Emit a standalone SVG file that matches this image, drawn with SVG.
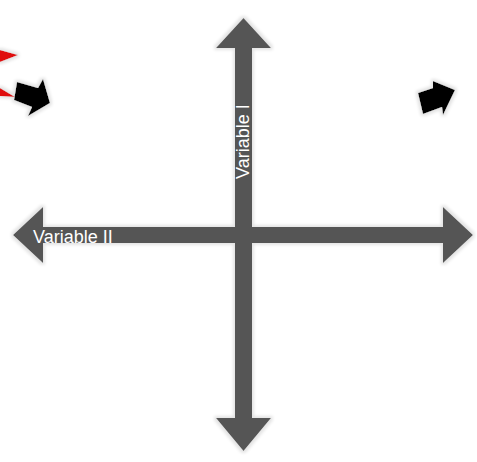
<svg xmlns="http://www.w3.org/2000/svg" width="477" height="462" viewBox="0 0 477 462">
<style>
.ax{fill:#555555}
.lbl{font-family:"Liberation Sans",Arial,sans-serif;font-size:18px;fill:#ffffff}
.blk{fill:#000000}
.red{fill:#e01010}
</style>
<defs>
<filter id="glow" x="-20%" y="-20%" width="140%" height="140%">
<feMorphology in="SourceAlpha" operator="dilate" radius="2" result="d"/>
<feGaussianBlur in="d" stdDeviation="1.5" result="b"/>
<feFlood flood-color="#e4e4e4"/>
<feComposite in2="b" operator="in" result="g"/>
<feMerge><feMergeNode in="g"/><feMergeNode in="SourceGraphic"/></feMerge>
</filter>
</defs>
<rect width="477" height="462" fill="#ffffff"/>
<g id="deco-left" filter="url(#glow)">
<polygon class="red" points="0,50 18,55 0,62"/>
<polygon class="red" points="0,88 15,97 0,96"/>
<polygon class="blk" points="17,82 38,88 43,79 50,103 28,116 32,107 14,100"/>
</g>
<g id="deco-right" filter="url(#glow)">
<polygon class="blk" points="418,93 433,88 433,81 455,90 443,115 442,107 423,114"/>
</g>
<g id="connectors" filter="url(#glow)">
<polygon class="ax" points="235,48 216,48 243.5,18 271,48 252,48 252,227 443,227 443,207 473,235 443,263 443,243 252,243 252,418 271,418 243.5,451 216,418 235,418 235,243 43,243 43,263 13,235 43,207 43,227 235,227"/>
</g>
<g id="variable-ii">
<text class="lbl" x="33" y="242.5">Variable II</text>
</g>
<g id="variable-i">
<text class="lbl" transform="translate(248.5,179) rotate(-90)">Variable I</text>
</g>
</svg>
